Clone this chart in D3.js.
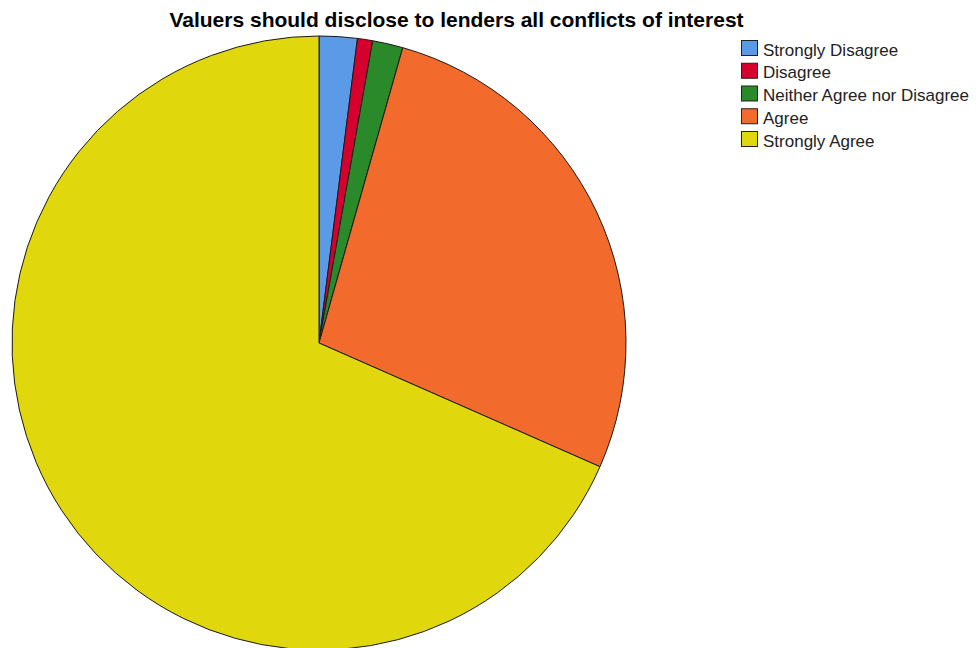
<!DOCTYPE html>
<html>
<head>
<meta charset="utf-8">
<script src="https://cdn.jsdelivr.net/npm/d3@7"></script>
<style>
  html, body { margin: 0; padding: 0; background: #fff; }
  svg { display: block; }
</style>
</head>
<body>
<svg id="chart" width="979" height="648"></svg>
<script>
// Survey responses
const categories = ["Strongly Disagree", "Disagree", "Neither Agree nor Disagree", "Agree", "Strongly Agree"];
const counts = [5, 2, 4, 68, 171];
const colors = ["#5a9ae6", "#d6002e", "#2a8a2a", "#f26a2c", "#e1d70d"];
const title = "Valuers should disclose to lenders all conflicts of interest";

const svg = d3.select("#chart");
const cx = 319, cy = 343, r = 307;

const data = categories.map((c, i) => ({ label: c, value: counts[i], color: colors[i] }));

const pie = d3.pie().value(d => d.value).sort(null);
const arc = d3.arc().innerRadius(0).outerRadius(r);

const g = svg.append("g").attr("transform", `translate(${cx},${cy})`);
g.selectAll("path")
  .data(pie(data))
  .join("path")
  .attr("d", arc)
  .attr("fill", d => d.data.color)
  .attr("stroke", "#1a1a1a")
  .attr("stroke-width", 1)
  .attr("stroke-linejoin", "round");

svg.append("text")
  .attr("x", 456.5)
  .attr("y", 27)
  .attr("text-anchor", "middle")
  .attr("font-family", "Liberation Sans, Arial, sans-serif")
  .attr("font-weight", "bold")
  .attr("font-size", 21)
  .attr("fill", "#000")
  .text(title);

// Legend
const legend = svg.append("g").attr("transform", "translate(741,40)");
const rowH = 22.75;
const items = legend.selectAll("g")
  .data(data)
  .join("g")
  .attr("transform", (d, i) => `translate(0,${i * rowH})`);
items.append("rect")
  .attr("x", 0.5).attr("y", 0.5)
  .attr("width", 16).attr("height", 15)
  .attr("fill", d => d.color)
  .attr("stroke", "#222")
  .attr("stroke-width", 1);
items.append("text")
  .attr("x", 22)
  .attr("y", 15.5)
  .attr("font-family", "Liberation Sans, Arial, sans-serif")
  .attr("font-size", 17)
  .attr("fill", "#222")
  .text(d => d.label);
</script>
</body>
</html>
